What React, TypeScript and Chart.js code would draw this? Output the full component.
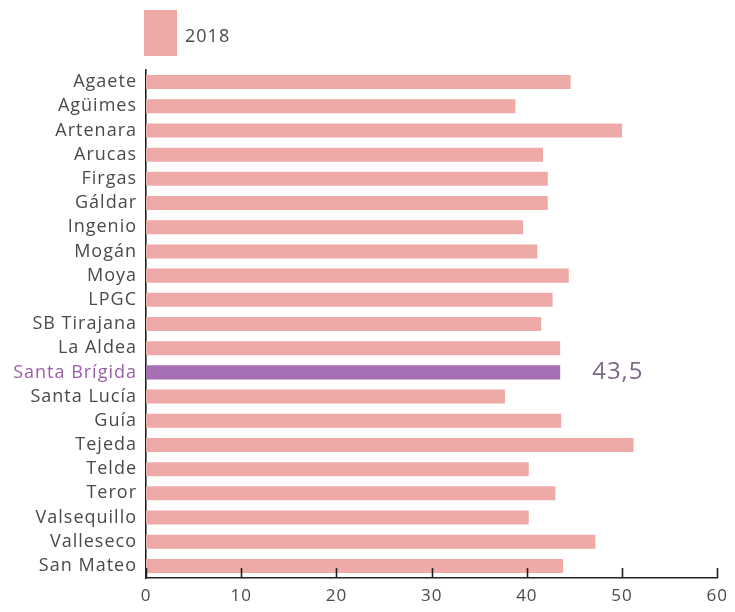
import React, { useEffect, useRef } from "react";
import { Chart, registerables } from "chart.js";
Chart.register(...registerables);

const categories = [
  "Agaete", "Agüimes", "Artenara", "Arucas", "Firgas", "Gáldar", "Ingenio",
  "Mogán", "Moya", "LPGC", "SB Tirajana", "La Aldea", "Santa Brígida",
  "Santa Lucía", "Guía", "Tejeda", "Telde", "Teror", "Valsequillo",
  "Valleseco", "San Mateo",
];
const values2018 = [
  44.6, 38.8, 50.0, 41.7, 42.2, 42.2, 39.6, 41.1, 44.4, 42.7, 41.5, 43.5,
  43.5, 37.7, 43.6, 51.2, 40.2, 43.0, 40.2, 47.2, 43.8,
];
const seriesLabel = "2018";
const highlightCategory = "Santa Brígida";
const highlightText = "43,5";
const xMin = 0;
const xMax = 60;
const xStep = 10;

const FONT = "'Open Sans', sans-serif";
const BAR = "#eeaaa7";
const BAR_HL = "#a66fb4";
const TXT = "#4a4a4a";
const TXT_HL = "#9a5fa8";

const spacingPlugin = {
  id: "spacing",
  beforeDraw(chart: any) {
    (chart.ctx as any).letterSpacing = "1px";
  },
};

const legendPlugin = {
  id: "customLegend",
  afterDraw(chart: any) {
    const ctx = chart.ctx;
    ctx.save();
    ctx.fillStyle = BAR;
    ctx.fillRect(144, 10, 33, 46);
    ctx.fillStyle = TXT;
    ctx.font = `18px ${FONT}`;
    ctx.textBaseline = "middle";
    ctx.textAlign = "left";
    ctx.fillText(chart.data.datasets[0].label, 185, 37);
    ctx.restore();
  },
};

const tickMarksPlugin = {
  id: "tickMarks",
  afterDraw(chart: any) {
    const xs = chart.scales.x;
    const ctx = chart.ctx;
    const bottom = chart.chartArea.bottom;
    ctx.save();
    ctx.strokeStyle = "#222";
    ctx.lineWidth = 1.6;
    xs.ticks.forEach((t: any) => {
      const px = Math.round(xs.getPixelForValue(t.value)) + 0.5;
      ctx.beginPath();
      ctx.moveTo(px, bottom);
      ctx.lineTo(px, bottom - 10);
      ctx.stroke();
    });
    ctx.restore();
  },
};

const valueLabelPlugin = {
  id: "valueLabel",
  afterDraw(chart: any) {
    const idx = chart.data.labels.indexOf(highlightCategory);
    if (idx < 0) return;
    const bar = chart.getDatasetMeta(0).data[idx];
    const ctx = chart.ctx;
    ctx.save();
    ctx.fillStyle = "#7e6a88";
    ctx.font = `24px ${FONT}`;
    ctx.textBaseline = "middle";
    ctx.textAlign = "left";
    ctx.fillText(highlightText, bar.x + 32, bar.y);
    ctx.restore();
  },
};

export default function App() {
  const ref = useRef<HTMLCanvasElement>(null);
  useEffect(() => {
    if (!ref.current) return;
    const chart = new Chart(ref.current, {
      type: "bar",
      data: {
        labels: categories,
        datasets: [
          {
            label: seriesLabel,
            data: values2018,
            backgroundColor: categories.map((c) => (c === highlightCategory ? BAR_HL : BAR)),
            borderWidth: 0,
            barPercentage: 0.58,
            categoryPercentage: 1,
          },
        ],
      },
      options: {
        indexAxis: "y",
        responsive: false,
        animation: false,
        layout: { padding: { top: 70, right: 17, bottom: 0, left: 0 } },
        plugins: {
          legend: { display: false },
          tooltip: { enabled: false },
        },
        scales: {
          x: {
            type: "linear",
            min: xMin,
            max: xMax,
            ticks: { stepSize: xStep, color: TXT, font: { family: FONT, size: 17 }, padding: 8 },
            grid: { display: false, drawTicks: false },
            border: { display: true, color: "#222", width: 1.6 },
            afterFit: (s: any) => { s.height = 34; },
          },
          y: {
            type: "category",
            ticks: {
              autoSkip: false,
              padding: 9,
              font: { family: FONT, size: 18 },
              color: (c: any) => (categories[c.index] === highlightCategory ? TXT_HL : TXT),
            },
            grid: { display: false, drawTicks: false },
            border: { display: true, color: "#222", width: 1.6 },
            afterFit: (s: any) => { s.width = 146; },
          },
        },
      },
      plugins: [spacingPlugin, legendPlugin, tickMarksPlugin, valueLabelPlugin],
    });
    return () => chart.destroy();
  }, []);
  return (
    <div style={{ position: "absolute", left: 0, top: 0, width: 735, height: 612, background: "#fff" }}>
      <canvas ref={ref} width={735} height={612} style={{ display: "block" }} />
    </div>
  );
}
